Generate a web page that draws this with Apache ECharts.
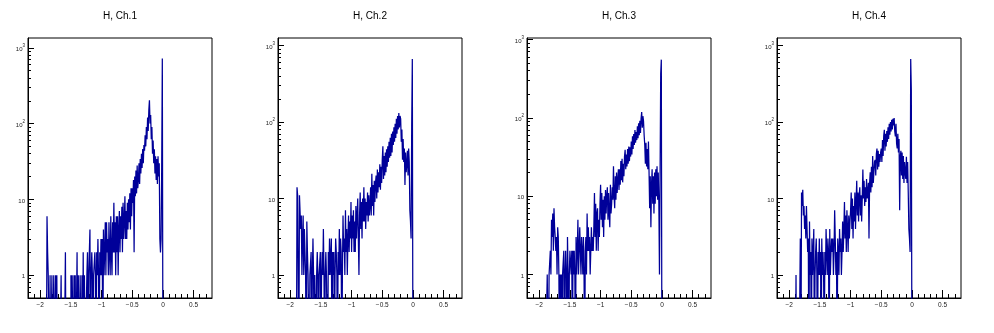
<!DOCTYPE html>
<html>
<head>
<meta charset="utf-8">
<script src="https://cdn.jsdelivr.net/npm/echarts@6/dist/echarts.min.js"></script>
<style>
html,body{margin:0;padding:0;background:#fff;}
#chart{width:994px;height:333px;}
</style>
</head>
<body>
<div id="chart"></div>
<script>
// Histogram bins: low edges start at binStart, width binWidth (0.01)
const binStart = -1.90;
const binWidth = 0.01;
const titles = ['H, Ch.1', 'H, Ch.2', 'H, Ch.3', 'H, Ch.4'];
const xMajorTicks = [-2, -1.5, -1, -0.5, 0, 0.5];
const xMinorTicks = [-2.1, -1.9, -1.8, -1.7, -1.6, -1.4, -1.3, -1.2, -1.1, -0.9, -0.8, -0.7, -0.6, -0.4, -0.3, -0.2, -0.1, 0.1, 0.2, 0.3, 0.4, 0.6, 0.7];
const yMajorTicks = [1, 10, 100, 1000];
const yMinorTicks = [0.6, 0.7, 0.8, 0.9, 2, 3, 4, 5, 6, 7, 8, 9, 20, 30, 40, 50, 60, 70, 80, 90, 200, 300, 400, 500, 600, 700, 800, 900];

const ch1 = [
  0,6,2,1,1,0,1,0,0,1,
  0,0,1,1,0,1,0,1,0,0,
  0,0,0,0,1,0,0,0,0,0,
  0,2,0,0,0,0,0,0,0,0,
  1,0,1,1,0,1,0,1,0,0,
  2,0,1,1,0,1,1,0,1,0,
  2,0,1,0,0,0,1,2,0,1,
  1,4,0,1,2,1,0,1,1,2,
  1,0,2,1,3,1,0,2,1,3,
  1,3,0,4,1,2,5,1,5,2,
  3,1,5,2,1,6,2,1,5,2,
  9,2,5,1,6,2,6,1,4,7,
  2,6,3,8,2,9,3,5,11,3,
  7,3,9,4,10,5,12,4,14,6,
  14,9,18,2,20,11,24,12,28,14,
  18,30,16,34,22,40,26,46,30,52,
  44,70,50,90,62,120,80,150,203,100,
  130,62,90,40,60,30,46,22,37,18,
  34,16,37,20,30,3,2,3,27,720
];
const ch2 = [
  0,14,11,11,0,11,11,4,6,1,
  3,6,1,4,2,1,0,5,2,1,
  1,0,1,1,2,0,1,3,1,0,
  1,1,0,1,2,1,0,1,1,2,
  0,1,2,1,4,1,0,1,2,1,
  1,0,2,1,3,1,1,3,0,2,
  1,2,0,1,3,2,1,0,2,1,
  4,1,3,2,0,1,6,2,3,1,
  7,2,4,1,3,6,2,5,3,9,
  2,6,3,7,2,5,2,8,3,6,
  10,3,1,6,12,4,9,3,10,5,
  14,5,10,4,9,6,12,5,11,6,
  8,14,6,21,8,15,6,17,9,16,
  20,10,24,12,22,14,28,13,26,16,
  32,48,18,36,20,40,22,44,26,48,
  30,55,34,62,36,70,40,75,50,85,
  55,95,62,110,70,120,80,131,85,120,
  110,55,80,32,60,30,45,15,40,22,
  28,42,20,45,30,7,5,3,89,664
];
const ch3 = [
  0,0,0,1,1,0,1,1,2,1,
  5,3,6,2,7,4,3,2,3,1,
  4,3,1,0,1,0,1,0,1,1,
  2,0,1,2,1,0,3,1,0,1,
  2,2,1,2,0,2,1,2,1,0,
  3,1,2,5,1,2,4,2,1,3,
  2,1,3,1,0,2,3,1,6,2,
  4,2,3,1,2,4,2,3,2,4,
  11,3,8,2,6,7,2,5,3,8,
  14,5,11,4,9,3,10,5,12,6,
  10,13,5,11,6,4,14,6,8,13,
  9,24,10,7,18,9,20,11,16,22,
  12,22,14,28,16,30,15,26,18,32,
  39,22,34,24,40,26,43,28,42,32,
  50,34,58,40,62,45,70,48,66,52,
  78,55,85,60,92,64,98,119,75,105,
  90,60,45,26,48,24,40,22,50,20,
  7,18,4,14,22,8,18,6,20,8,
  22,10,24,9,20,8,1,1,366,554
];
const ch4 = [
  0,1,0,0,0,0,0,0,3,0,
  12,8,13,6,8,4,6,3,8,4,
  2,3,0,5,1,2,0,3,1,2,
  4,0,1,2,3,1,0,2,1,3,
  1,2,0,3,1,2,1,0,2,1,
  4,2,1,3,2,0,4,1,2,3,
  2,3,1,2,7,3,1,2,0,3,
  2,1,4,2,3,1,2,5,2,4,
  9,3,6,2,7,4,2,6,3,5,
  7,12,4,10,3,8,5,12,4,9,
  17,6,12,5,11,14,6,11,5,10,
  24,10,17,8,14,9,18,10,12,16,
  3,16,22,12,26,14,36,16,22,30,
  32,20,38,45,24,42,26,38,30,40,
  45,30,58,36,66,79,42,70,48,76,
  55,85,60,95,68,100,75,107,80,110,
  90,113,75,65,95,52,45,70,40,60,
  7,35,42,20,40,18,36,16,30,22,
  18,35,16,30,12,4,3,2,664,258
];
const channels = [ch1, ch2, ch3, ch4];
const xRange = [-2.2, 0.8];
const yRanges = [[0.5, 1346], [0.5, 1253], [0.5, 1047], [0.5, 1253]];

// ---- layout / style ----
const gridLefts = [28, 278, 527, 777];
const gridTop = 38, gridW = 184, gridH = 260;
const FONT = 'Liberation Sans, Arial, Helvetica, sans-serif';
const LINE_COLOR = '#000099';
const FLOOR = 0.05; // empty bins drawn below the frame (clipped), as ROOT does on log scale

function histPoints(counts) {
  const pts = [[binStart, FLOOR]];
  for (let i = 0; i < counts.length; i++) {
    const x = +(binStart + i * binWidth).toFixed(4);
    pts.push([x, counts[i] > 0 ? counts[i] : FLOOR]);
  }
  pts.push([+(binStart + counts.length * binWidth).toFixed(4), FLOOR]);
  return pts;
}
function xFmt(v) {
  const r = Math.round(v * 10) / 10;
  return (r < 0 ? '\u2212' : '') + String(Math.abs(r));
}
function yFmt(v) {
  const p = Math.round(Math.log10(v));
  if (p === 0) return '{b|1}';
  if (p === 1) return '{b|10}';
  return '{b|10}{s|' + p + '}';
}

const grids = [], xAxes = [], yAxes = [], series = [], graphics = [];
channels.forEach((counts, g) => {
  grids.push({left: gridLefts[g], top: gridTop, width: gridW, height: gridH,
    show: true, borderColor: '#000', borderWidth: 1, backgroundColor: 'transparent', containLabel: false});
  xAxes.push({type: 'value', gridIndex: g, position: 'bottom', min: xRange[0], max: xRange[1],
    axisLine: {show: true, onZero: false, lineStyle: {color: '#000', width: 1}},
    axisTick: {show: true, inside: true, length: 8, customValues: xMajorTicks, lineStyle: {color: '#000', width: 1}},
    axisLabel: {show: true, customValues: xMajorTicks, formatter: xFmt, fontSize: 6.5, color: '#222', fontFamily: FONT, margin: 4},
    splitLine: {show: false}});
  xAxes.push({type: 'value', gridIndex: g, position: 'bottom', min: xRange[0], max: xRange[1],
    axisLine: {show: false, onZero: false},
    axisTick: {show: true, inside: true, length: 4, customValues: xMinorTicks, lineStyle: {color: '#000', width: 1}},
    axisLabel: {show: false}, splitLine: {show: false}});
  yAxes.push({type: 'log', logBase: 10, gridIndex: g, position: 'left', min: yRanges[g][0], max: yRanges[g][1],
    axisLine: {show: true, onZero: false, lineStyle: {color: '#000', width: 1}},
    axisTick: {show: true, inside: true, length: 6, customValues: yMajorTicks, lineStyle: {color: '#000', width: 1}},
    axisLabel: {show: true, customValues: yMajorTicks, formatter: yFmt, margin: 3, color: '#222',
      rich: {b: {fontSize: 6, fontFamily: FONT, color: '#222', lineHeight: 9, verticalAlign: 'bottom'},
             s: {fontSize: 4.5, fontFamily: FONT, color: '#222', verticalAlign: 'top'}}},
    splitLine: {show: false}});
  yAxes.push({type: 'log', logBase: 10, gridIndex: g, position: 'left', min: yRanges[g][0], max: yRanges[g][1],
    axisLine: {show: false, onZero: false},
    axisTick: {show: true, inside: true, length: 3, customValues: yMinorTicks, lineStyle: {color: '#000', width: 1}},
    axisLabel: {show: false}, splitLine: {show: false}});
  series.push({type: 'line', xAxisIndex: 2 * g, yAxisIndex: 2 * g, data: histPoints(counts),
    step: 'end', symbol: 'none', showSymbol: false, clip: true, silent: true,
    lineStyle: {color: LINE_COLOR, width: 1.25}});
  graphics.push({type: 'text', x: gridLefts[g] + gridW / 2, y: 16,
    style: {text: titles[g], align: 'center', verticalAlign: 'middle', fontSize: 10, fontFamily: FONT, fill: '#000'}});
});

const chart = echarts.init(document.getElementById('chart'), null, {renderer: 'canvas'});
chart.setOption({
  animation: false,
  backgroundColor: '#fff',
  grid: grids, xAxis: xAxes, yAxis: yAxes, series: series, graphic: graphics
});
</script>
</body>
</html>
